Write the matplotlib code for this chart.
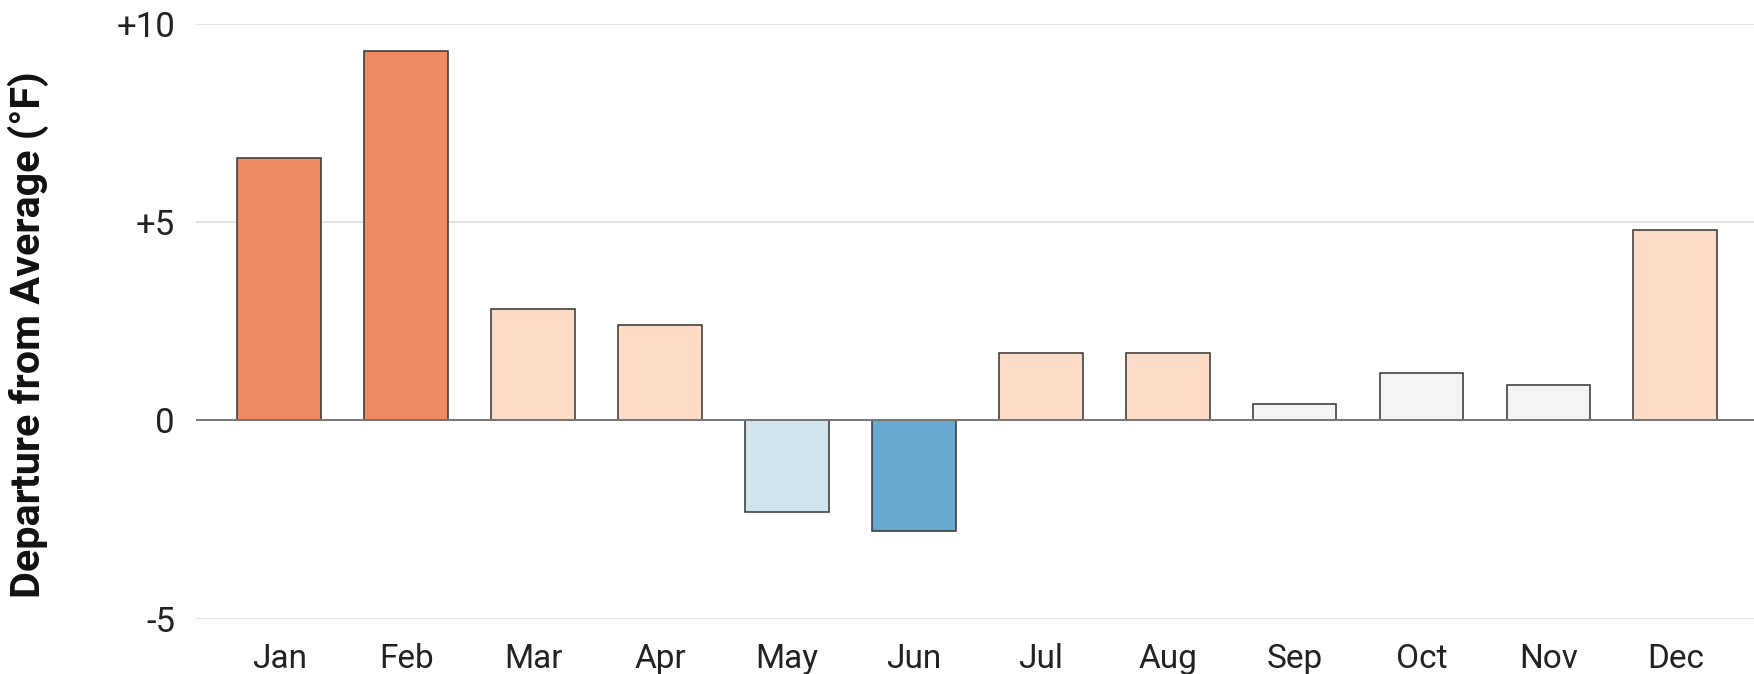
import matplotlib
matplotlib.use("Agg")
import matplotlib.pyplot as plt

months = ["Jan", "Feb", "Mar", "Apr", "May", "Jun",
          "Jul", "Aug", "Sep", "Oct", "Nov", "Dec"]
departure = [6.6, 9.3, 2.8, 2.4, -2.3, -2.8, 1.7, 1.7, 0.4, 1.2, 0.9, 4.8]
bar_colors = ["#ef8a62", "#ef8a62", "#fddbc7", "#fddbc7", "#d1e5f0", "#67a9cf",
              "#fddbc7", "#fddbc7", "#f4f4f4", "#f4f4f4", "#f4f4f4", "#fddbc7"]
yticks = [-5, 0, 5, 10]
ytick_labels = ["-5", "0", "+5", "+10"]

plt.rcParams['font.family'] = ['Roboto', 'DejaVu Sans']

fig = plt.figure(figsize=(17.54, 6.74), dpi=100)
ax = fig.add_axes([0.1117, 0.082, 0.8883, 0.883])

# gridlines first, bars on top
for t in yticks:
    if t == 0:
        continue
    ax.axhline(t, color="#dddddd", lw=1.2, zorder=0)

x = range(len(months))
ax.bar(x, departure, width=0.66, color=bar_colors, edgecolor="#333333",
       linewidth=1.1, zorder=2)
ax.axhline(0, color="#777777", lw=1.4, zorder=3)

ax.set_xlim(-0.656, 11.62)
ax.set_ylim(-5, 10)
ax.set_xticks(list(x))
ax.set_xticklabels(months, fontsize=24, color="#222222")
ax.set_yticks(yticks)
ax.set_yticklabels(ytick_labels, fontsize=25, color="#222222")
ax.tick_params(axis="both", length=0)
ax.tick_params(axis="y", pad=15)
ax.tick_params(axis="x", pad=17.5)

for s in ax.spines.values():
    s.set_visible(False)

ax.set_ylabel("Departure from Average (°F)", fontsize=29.8, fontweight="bold",
              color="#111111")
ax.yaxis.set_label_coords(-0.094, 0.478)

fig.savefig("out.png", dpi=100, facecolor="white")
